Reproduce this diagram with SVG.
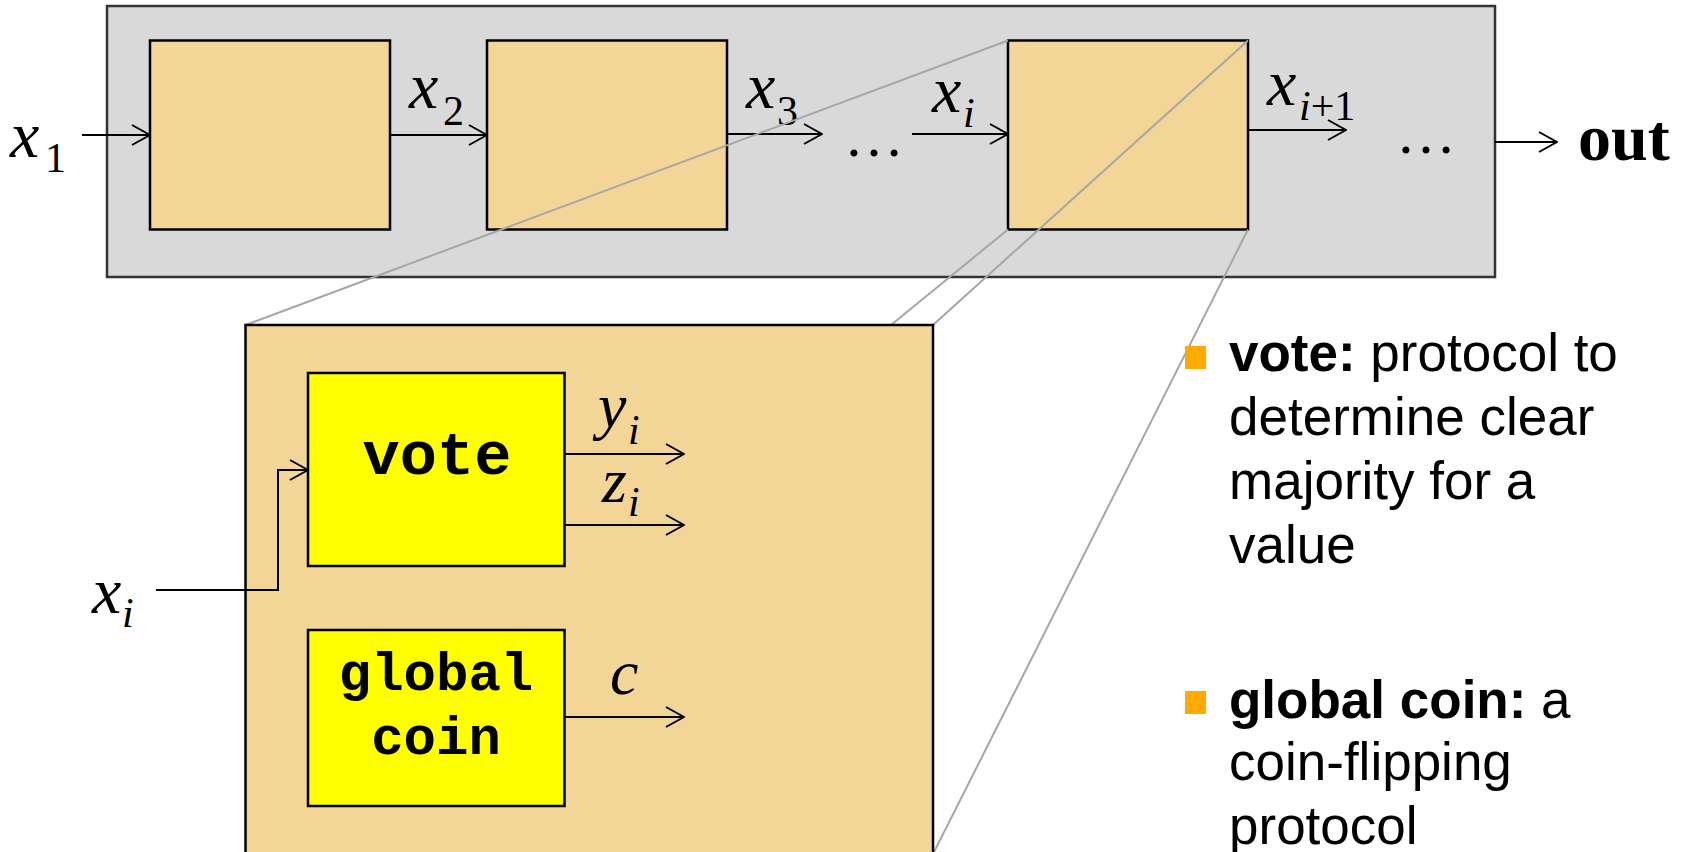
<svg xmlns="http://www.w3.org/2000/svg" width="1681" height="852" viewBox="0 0 1681 852">
<defs>
<marker id="arr" viewBox="0 0 20 22" refX="19" refY="11" markerWidth="20" markerHeight="22" markerUnits="userSpaceOnUse" orient="auto">
<path d="M1,1 L19,11 L1,21" fill="none" stroke="#000" stroke-width="2"/>
</marker>
<style>
.box{fill:#F2D597;stroke:#000;stroke-width:2.5}
.ybox{fill:#FFFF00;stroke:#000;stroke-width:2.5}
.ar{stroke:#000;stroke-width:2;fill:none;marker-end:url(#arr)}
.zl{stroke:#A6A6A6;stroke-width:2;fill:none}
.m{font-family:"Liberation Serif",serif;font-style:italic;fill:#000}
.mn{font-family:"Liberation Serif",serif;font-style:normal;fill:#000}
.code{font-family:"Liberation Mono","Courier New",monospace;font-weight:bold;fill:#000;text-anchor:middle}
.bt{font-family:"Liberation Sans",Arial,sans-serif;font-size:53px;fill:#000}
</style>
</defs>
<rect width="1681" height="852" fill="#fff"/>

<g id="pipeline">
<rect x="107" y="6" width="1388" height="271" fill="#D9D9D9" stroke="#333" stroke-width="2.5"/>
</g>
<g id="box1"><rect class="box" x="150" y="40.5" width="240" height="189"/></g>
<g id="box2"><rect class="box" x="487" y="40.5" width="240" height="189"/></g>
<g id="boxi"><rect class="box" x="1008" y="40.5" width="240" height="189"/></g>

<g id="connectors">
<line class="ar" x1="82" y1="135" x2="150" y2="135"/>
<line class="ar" x1="390" y1="135" x2="487" y2="135"/>
<line class="ar" x1="727" y1="134" x2="822" y2="134"/>
<line class="ar" x1="912" y1="134" x2="1008" y2="134"/>
<line class="ar" x1="1249" y1="130" x2="1346" y2="130"/>
<line class="ar" x1="1495" y1="142" x2="1557" y2="142"/>
</g>

<g id="labels">
<text class="m" x="10" y="157" font-size="66">x</text><text class="mn" x="45" y="172" font-size="42">1</text>
<text class="m" x="409" y="108" font-size="66">x</text><text class="mn" x="443" y="125" font-size="42">2</text>
<text class="m" x="746" y="108" font-size="66">x</text><text class="mn" x="777" y="125" font-size="42">3</text>
<text class="mn" x="844" y="156" font-size="60">…</text>
<text class="m" x="932" y="112" font-size="66">x</text><text class="m" x="963" y="127" font-size="42">i</text>
<text class="m" x="1267" y="105" font-size="66">x</text><text x="1299" y="120" font-size="42"><tspan class="m">i</tspan><tspan class="mn">+1</tspan></text>
<text class="mn" x="1396" y="153" font-size="60">…</text>
<text x="1578" y="160" font-family="Liberation Serif,serif" font-weight="bold" font-size="66">out</text>
</g>

<g id="zoom-lines">
<line class="zl" x1="1008" y1="40.5" x2="245.5" y2="325"/>
<line class="zl" x1="1248" y1="40.5" x2="933" y2="325"/>
<line class="zl" x1="1008" y1="229.5" x2="891" y2="325"/>
<line class="zl" x1="1248" y1="229.5" x2="933" y2="854"/>
</g>

<g id="detail">
<rect class="box" x="245.5" y="325" width="687.5" height="529"/>
</g>
<g id="vote"><rect class="ybox" x="308" y="373" width="256.5" height="193"/>
<text class="code" x="437" y="474" font-size="62">vote</text></g>
<g id="globalcoin"><rect class="ybox" x="308" y="630" width="256.5" height="176"/>
<text class="code" x="436" y="690" font-size="54">global</text>
<text class="code" x="436" y="754" font-size="54">coin</text></g>

<g id="inner-connectors">
<polyline class="ar" points="156,590 278,590 278,470 308,470"/>
<line class="ar" x1="564.5" y1="454" x2="684" y2="454"/>
<line class="ar" x1="564.5" y1="525" x2="684" y2="525"/>
<line class="ar" x1="564.5" y1="717" x2="684" y2="717"/>
</g>

<g id="inner-labels">
<text class="m" x="92" y="613" font-size="66">x</text><text class="m" x="122" y="627" font-size="42">i</text>
<text class="m" x="598" y="427" font-size="64">y</text><text class="m" x="628" y="444" font-size="42">i</text>
<text class="m" x="602" y="502" font-size="64">z</text><text class="m" x="628" y="516" font-size="42">i</text>
<text class="m" x="610" y="694" font-size="64">c</text>
</g>

<g id="bullets">
<rect x="1185" y="346" width="21" height="23" fill="#FFAA00"/>
<text class="bt" x="1229" y="371"><tspan font-weight="bold">vote:</tspan> protocol to</text>
<text class="bt" x="1229" y="435">determine clear</text>
<text class="bt" x="1229" y="499">majority for a</text>
<text class="bt" x="1229" y="563">value</text>
<rect x="1185" y="691" width="21" height="23" fill="#FFAA00"/>
<text class="bt" x="1229" y="718"><tspan font-weight="bold">global coin:</tspan> a</text>
<text class="bt" x="1229" y="780">coin-flipping</text>
<text class="bt" x="1229" y="844">protocol</text>
</g>
</svg>
